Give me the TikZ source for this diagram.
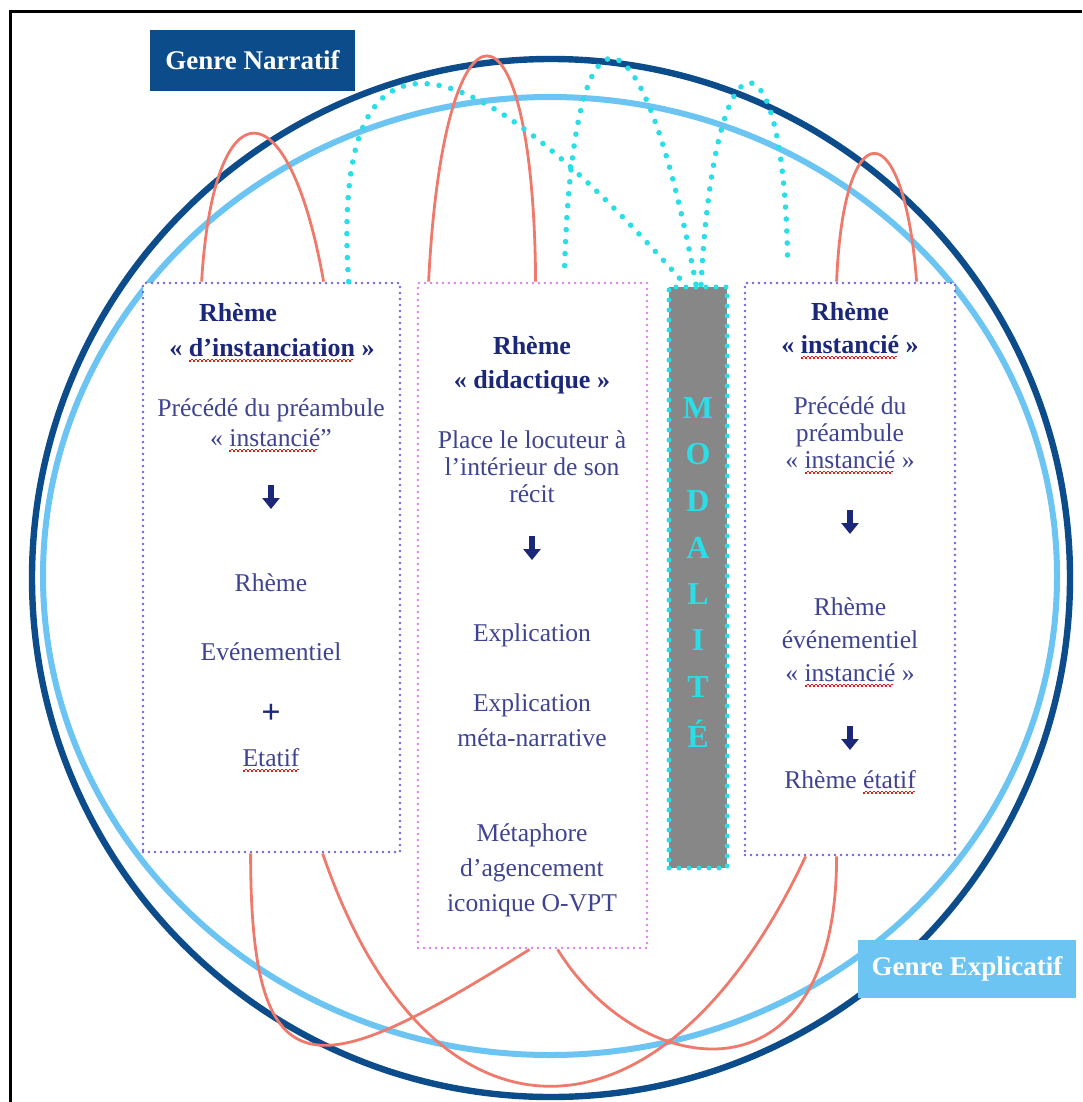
\documentclass[tikz,border=0pt]{standalone}
\usepackage{fontspec}
\setmainfont{Liberation Serif}
\usetikzlibrary{arrows.meta}
\definecolor{narrblue}{HTML}{0D4C8B}
\definecolor{explblue}{HTML}{6CC4F2}
\definecolor{linkred}{HTML}{EF7A6C}
\definecolor{modcyan}{HTML}{2BDDE6}
\definecolor{modgrey}{HTML}{878787}
\definecolor{boxviolet}{HTML}{6F63E2}
\definecolor{boxpink}{HTML}{DC80EE}
\definecolor{navytext}{HTML}{1B2778}
\definecolor{slatetext}{HTML}{3F4491}
\definecolor{squigred}{HTML}{E02020}
\newcommand\squig[1]{\setbox0\hbox{#1}\rlap{\lower2.6pt\hbox to \wd0{\color{squigred}%
  \leaders\hbox to 2pt{\rule{1pt}{0.6pt}\raise0.6pt\hbox{\rule{1pt}{0.6pt}}}\hfill}}\copy0\relax}

\begin{document}
\begin{tikzpicture}[x=0.5pt,y=-0.5pt,
  head/.style={text=navytext, font=\fontsize{13}{15}\selectfont\bfseries, align=center},
  body/.style={text=slatetext, font=\fontsize{12.8}{13.5}\selectfont, align=center},
  genre/.style={text=white, font=\fontsize{13.5}{15}\selectfont\bfseries},
  rhemebox/.style={draw=boxviolet, fill=white, line width=1.4pt, dash pattern=on 0pt off 3pt, line cap=round},
  link/.style={draw=linkred, line width=1.4pt},
  modlink/.style={draw=modcyan, line width=2.8pt, dash pattern=on 0pt off 6pt, line cap=round},
  dnarrow/.style={draw=navytext, line width=3pt, -{Triangle[width=8.5pt,length=5.5pt]}}]
\useasboundingbox (0,0) rectangle (1082,1102);
\draw[black, line width=1.5pt] (10,1102) -- (10,12) -- (1082,12);

% the two genres
\draw[narrblue, line width=3.2pt] (551,578) circle (519);
\draw[explblue, line width=3pt] (550,576) ellipse [x radius=507, y radius=479];

% columns
\node[rhemebox, minimum width=128.5pt, minimum height=284.5pt] (instbox) at (271.5,567.5) {};
\node[rhemebox, draw=boxpink, minimum width=114.5pt, minimum height=332.5pt] (didbox) at (532.5,615.5) {};
\node[rhemebox, minimum width=105pt, minimum height=286pt] (instcbox) at (850,569) {};
\node[fill=modgrey, draw=modcyan, line width=2.5pt, dash pattern=on 0pt off 5pt, line cap=round,
  minimum width=29pt, minimum height=290.5pt] (modbar) at (698,577.5) {};
\foreach \ltr [count=\i] in {M,O,D,A,L,I,T,É}
  \node[text=modcyan, font=\fontsize{16}{16}\selectfont\bfseries] (mod\i) at (698,361.5+46.5*\i) {\ltr};

\node[fill=narrblue, genre, minimum width=102.5pt, minimum height=30.5pt] (narr) at (252.5,60.5) {Genre Narratif};
\node[fill=explblue, genre, minimum width=109pt, minimum height=29pt] (expl) at (967,969) {Genre Explicatif};

% left column
\node[head] (instrh) at (238,313) {Rhème};
\node[head] (insthd) at (272,350) {« \squig{d’instanciation} »};
\node[body] (instpre) at (271,425) {Précédé du préambule\\[1.5pt]« \squig{instancié}''};
\draw[dnarrow] (271,485) -- (271,509);
\node[body] (instrh2) at (271,583) {Rhème};
\node[body] (instev) at (271,652) {Evénementiel};
\node[head, font=\fontsize{17}{17}\selectfont\bfseries] (instplus) at (271,714) {+};
\node[body] (instet) at (271,760) {\squig{Etatif}};

% middle column
\node[head] (didrh) at (532,346) {Rhème};
\node[head] (didhd) at (532,382) {« didactique »};
\node[body] (didplace) at (532,467) {Place le locuteur à\\l’intérieur de son\\récit};
\draw[dnarrow] (532,536) -- (532,560);
\node[body] (didex) at (532,635) {Explication};
\node[body] (didmeta) at (532,720) {Explication\\[4pt]méta-narrative};
\node[body] (didmet) at (532,870) {Métaphore\\[4pt]d’agencement\\[4pt]iconique O-VPT};

% right column
\node[head] (icrh) at (850,312) {Rhème};
\node[head] (ichd) at (850,347) {« \squig{instancié} »};
\node[body] (icpre) at (850,435) {Précédé du\\préambule\\« \squig{instancié} »};
\draw[dnarrow] (850,510) -- (850,534);
\node[body] (icev) at (850,642) {Rhème\\[3pt]événementiel\\[3pt]« \squig{instancié} »};
\draw[dnarrow] (850,726) -- (850,750);
\node[body] (icet) at (850,782) {Rhème \squig{étatif}};

% links above
\draw[link] ([xshift=30pt]instbox.north west) .. controls +(12,-198) and +(-35,-198) .. ([xshift=91pt]instbox.north west);
\draw[link] ([xshift=6pt]didbox.north west) .. controls +(15,-301) and +(-2,-301) .. ([xshift=59.5pt]didbox.north west);
\draw[link] ([xshift=46.5pt]instcbox.north west) .. controls +(7,-171) and +(-13,-171) .. ([xshift=86.5pt]instcbox.north west);

% links below
\draw[link] ([xshift=54.5pt]instbox.south west) .. controls +(0,248) and +(-211,132) .. ([xshift=56.5pt]didbox.south west);
\draw[link] ([xshift=90.5pt]instbox.south west) .. controls +(106,310) and +(-144,307) .. ([xshift=31pt]instcbox.south west);
\draw[link] ([xshift=70.5pt]didbox.south west) .. controls +(81,132) and +(0,255) .. ([xshift=46.5pt]instcbox.south west);

% modality links
\draw[modlink] ([xshift=103.5pt]instbox.north west) .. controls +(-18,-270) and +(-230,-262) .. ([xshift=-6.5pt]modbar.north);
\draw[modlink] ([xshift=74pt,yshift=8pt]didbox.north west) .. controls +(9,-279) and +(-56,-299) .. ([xshift=-1pt]modbar.north);
\draw[modlink] ([xshift=1.5pt]modbar.north) .. controls +(14,-265) and +(-4,-238) .. ([xshift=22pt,yshift=11.5pt]instcbox.north west);
\end{tikzpicture}
\end{document}
